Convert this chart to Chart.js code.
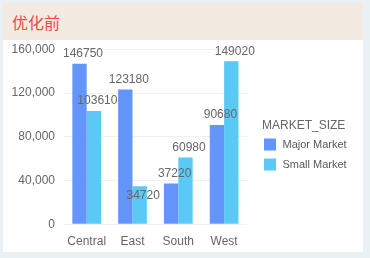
<!DOCTYPE html>
<html>
<head>
<meta charset="utf-8">
<script src="https://cdn.jsdelivr.net/npm/chart.js@4/dist/chart.umd.min.js"></script>
<style>
  html, body { margin: 0; padding: 0; background: #e9f1f5; width: 370px; height: 258px; overflow: hidden; }
  #card { position: absolute; left: 3px; top: 3px; width: 360px; height: 249px; background: #ffffff; }
  #head { position: absolute; left: 0; top: 0; width: 360px; height: 37px; background: #f3ebe1; }
  #title { position: absolute; left: 9px; top: 9px; font-family: "Noto Sans CJK SC", sans-serif; font-size: 16px; line-height: 20px; color: #f04848; }
  #wrap { position: absolute; left: 0; top: 37px; width: 360px; height: 212px; }
</style>
</head>
<body>
<div id="card">
  <div id="head"><div id="title">优化前</div></div>
  <div id="wrap"><canvas id="c" width="360" height="212"></canvas></div>
</div>
<script>
const categories = ["Central", "East", "South", "West"];
const seriesNames = ["Major Market", "Small Market"];
const majorValues = [146750, 123180, 37220, 90680];
const smallValues = [103610, 34720, 60980, 149020];
const yTicks = [0, 40000, 80000, 120000, 160000];
const legendTitle = "MARKET_SIZE";
const colors = ["#6395fa", "#5bc9f6"];

const FONT = "'Liberation Sans', Arial, sans-serif";
const TEXT = "#666666";

const labelPlugin = {
  id: "barLabels",
  afterDatasetsDraw(chart) {
    const ctx = chart.ctx;
    ctx.save();
    ctx.font = "12px " + FONT;
    ctx.fillStyle = TEXT;
    ctx.textAlign = "center";
    ctx.textBaseline = "middle";
    const placed = [];
    chart.data.datasets.forEach((ds, di) => {
      const meta = chart.getDatasetMeta(di);
      meta.data.forEach((bar, i) => {
        const txt = String(ds.data[i]);
        const w = ctx.measureText(txt).width;
        const cx = bar.x + 3.5;
        let cy = bar.y - 10;
        const box = (y) => ({ l: cx - w / 2, r: cx + w / 2, t: y - 6, b: y + 6 });
        let b = box(cy);
        const hit = placed.some(p => b.l < p.r && b.r > p.l && b.t < p.b && b.b > p.t);
        if (hit) { cy = bar.y + 9.5; b = box(cy); }
        placed.push(b);
        ctx.fillText(txt, cx, cy);
      });
    });
    ctx.restore();
  }
};

const legendPlugin = {
  id: "sideLegend",
  afterDraw(chart) {
    const ctx = chart.ctx;
    ctx.save();
    ctx.textBaseline = "middle";
    ctx.textAlign = "left";
    ctx.fillStyle = TEXT;
    ctx.font = "12px " + FONT;
    const x0 = chart.chartArea.right + 15;
    ctx.fillText(legendTitle, x0, 86);
    ctx.font = "11px " + FONT;
    seriesNames.forEach((n, i) => {
      const y = 98.5 + i * 20;
      ctx.fillStyle = colors[i];
      ctx.fillRect(x0 + 2, y, 12, 12);
      ctx.fillStyle = "#595959";
      ctx.fillText(n, x0 + 20.5, y + 6.5);
    });
    ctx.restore();
  }
};

new Chart(document.getElementById("c"), {
  type: "bar",
  data: {
    labels: categories,
    datasets: [
      { label: seriesNames[0], data: majorValues, backgroundColor: colors[0] },
      { label: seriesNames[1], data: smallValues, backgroundColor: colors[1] }
    ]
  },
  options: {
    responsive: false,
    animation: false,
    events: [],
    layout: { padding: { top: 9.3, right: 116, left: 0, bottom: 0 } },
    datasets: { bar: { categoryPercentage: 0.627, barPercentage: 1.0 } },
    plugins: { legend: { display: false }, tooltip: { enabled: false } },
    scales: {
      x: {
        grid: { display: false, drawTicks: false },
        border: { display: false },
        ticks: { color: TEXT, font: { family: FONT, size: 12 }, padding: 10 },
        afterFit(s) { s.height = 27.7; s.paddingLeft = 0; s.paddingRight = 0; }
      },
      y: {
        min: 0, max: 160000,
        afterBuildTicks(s) { s.ticks = yTicks.map(v => ({ value: v })); },
        grid: { color: "#f0f0f0", drawTicks: false },
        border: { display: false },
        ticks: {
          color: TEXT, font: { family: FONT, size: 12 }, padding: 8.8,
          callback: v => Number(v).toLocaleString("en-US")
        },
        afterFit(s) { s.width = 60.8; s.paddingTop = 0; s.paddingBottom = 0; }
      }
    }
  },
  plugins: [labelPlugin, legendPlugin]
});
</script>
</body>
</html>
